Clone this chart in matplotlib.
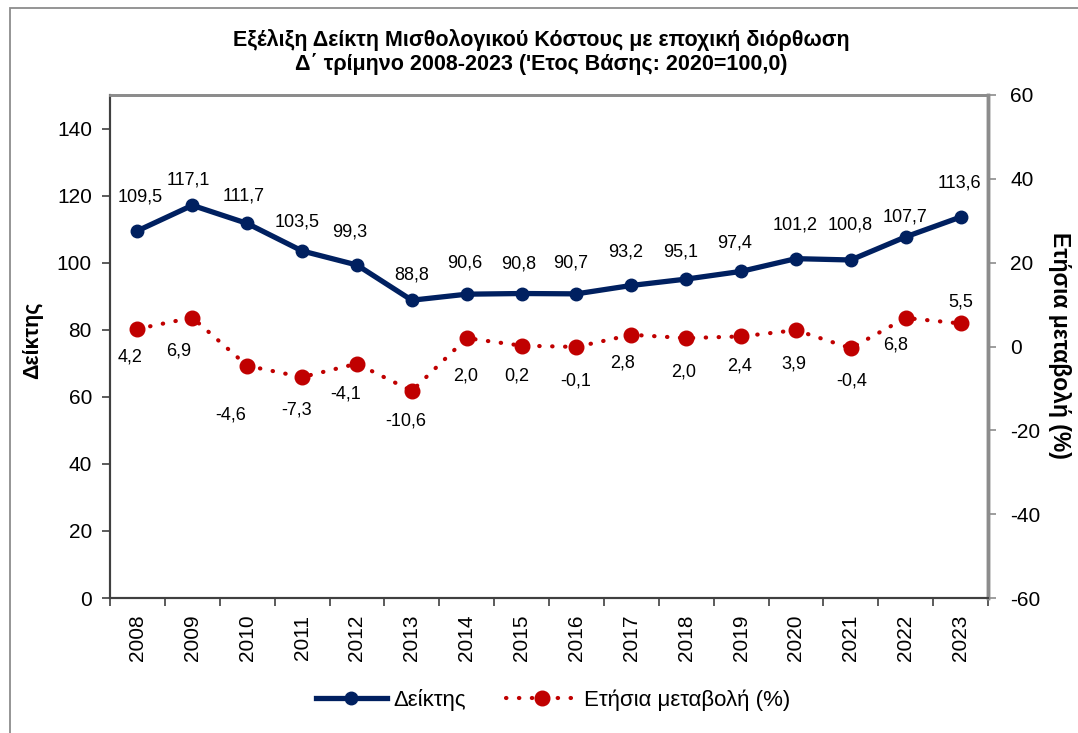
import numpy as np
import matplotlib
matplotlib.use('Agg')
import matplotlib.pyplot as plt
from matplotlib.lines import Line2D
from matplotlib.patches import Rectangle

plt.rcParams['font.family'] = ['Liberation Sans', 'DejaVu Sans']
plt.rcParams['axes.unicode_minus'] = False

# data
years = ['2008', '2009', '2010', '2011', '2012', '2013', '2014', '2015',
         '2016', '2017', '2018', '2019', '2020', '2021', '2022', '2023']
index_vals = [109.5, 117.1, 111.7, 103.5, 99.3, 88.8, 90.6, 90.8,
              90.7, 93.2, 95.1, 97.4, 101.2, 100.8, 107.7, 113.6]
change_vals = [4.2, 6.9, -4.6, -7.3, -4.1, -10.6, 2.0, 0.2,
               -0.1, 2.8, 2.0, 2.4, 3.9, -0.4, 6.8, 5.5]

# label placement (pixels, relative to the point)
idx_dx = [3, -4, -4, -5, -7, 0, -2, -3, -6, -6, -6, -7, -1, -1, -1, -1]
idx_dy = [34, 25, 27, 29, 33, 25, 31, 30, 31, 33, 27, 28, 34, 35, 20, 34]
chg_dx = [-7, -14, -16, -5, -11, -6, -1, -5, -1, -9, -3, -2, -2, 1, -10, 0]
chg_dy = [-28, -33, -49, -33, -30, -30, -38, -30, -34, -28, -34, -30, -34, -33, -27, 21]

BLUE = '#002060'
RED = '#c00000'

def fmt(v):
    return f'{v:.1f}'.replace('.', ',')

fig = plt.figure(figsize=(10.78, 7.33), dpi=100)
W, H = 1078, 733

# outer chart border
fig.patches.append(Rectangle((10 / W, -0.1), 1.2, 1.1 - 8 / H,
                             transform=fig.transFigure, fill=False,
                             edgecolor='#8c8c8c', linewidth=1.3))

ax = fig.add_axes([110 / W, 1 - 598 / H, 878 / W, 503 / H])
ax2 = ax.twinx()

x = np.arange(len(years))

ax.plot(x, index_vals, color=BLUE, linewidth=3.8, marker='o',
        markersize=9, solid_capstyle='round', zorder=3)
ax2.plot(x, change_vals, color=RED, linewidth=3.0, linestyle=(0, (0.1, 3.0)),
         dash_capstyle='round', marker='o', markersize=10.5, zorder=3)

for i, v in enumerate(index_vals):
    ax.annotate(fmt(v), (x[i], v), xytext=(idx_dx[i], idx_dy[i]),
                textcoords='offset pixels', ha='center', va='center',
                fontsize=13, color='black')
for i, v in enumerate(change_vals):
    ax2.annotate(fmt(v), (x[i], v), xytext=(chg_dx[i], chg_dy[i]),
                 textcoords='offset pixels', ha='center', va='center',
                 fontsize=13, color='black')

ax.set_xlim(-0.5, len(years) - 0.5)
ax.set_ylim(0, 150)
ax2.set_ylim(-60, 60)
ax.set_yticks(range(0, 141, 20))
ax2.set_yticks(range(-60, 61, 20))

ax.set_xticks(x)
ax.set_xticklabels(years, rotation=90)
ax.set_xticks(np.arange(-0.5, len(years), 1), minor=True)
ax.tick_params(axis='x', which='major', length=0, pad=12, labelsize=15)
ax.tick_params(axis='x', which='minor', length=6, width=1.2, color='#404040')
ax.tick_params(axis='y', length=6, width=1.2, color='#404040', pad=7, labelsize=15)
ax2.tick_params(axis='y', length=6, width=1.2, color='#8c8c8c', pad=10, labelsize=15)

for a in (ax, ax2):
    a.spines['left'].set_color('#404040')
    a.spines['left'].set_linewidth(1.5)
    a.spines['bottom'].set_color('#404040')
    a.spines['bottom'].set_linewidth(1.5)
    a.spines['top'].set_color('#8c8c8c')
    a.spines['top'].set_linewidth(2)
    a.spines['right'].set_color('#8c8c8c')
    a.spines['right'].set_linewidth(2.5)

fig.text(541 / W, 1 - 52 / H,
         'Εξέλιξη Δείκτη Μισθολογικού Κόστους με εποχική διόρθωση\n'
         "Δ΄ τρίμηνο 2008-2023 ('Ετος Βάσης: 2020=100,0)",
         ha='center', va='center', fontsize=15.5, fontweight='bold',
         linespacing=1.15)
fig.text(33 / W, 1 - 340 / H, 'Δείκτης', rotation=90, ha='center',
         va='center', fontsize=15.5, fontweight='bold')
fig.text(1060 / W, 1 - 345 / H, 'Ετήσια μεταβολή (%)', rotation=-90,
         ha='center', va='center', fontsize=16.5, fontweight='bold')

handles = [
    Line2D([], [], color=BLUE, linewidth=3.8, marker='o', markersize=9),
    Line2D([], [], color=RED, linewidth=3.0, linestyle=(0, (0.1, 3.0)),
           dash_capstyle='round', marker='o', markersize=10.5),
]
fig.legend(handles, ['Δείκτης', 'Ετήσια μεταβολή (%)'], loc='center',
           bbox_to_anchor=(553 / W, 1 - 700 / H), ncol=2, frameon=False,
           fontsize=16, handlelength=3.2, columnspacing=1.8,
           handletextpad=0.3)

fig.savefig('out.png', dpi=100)
